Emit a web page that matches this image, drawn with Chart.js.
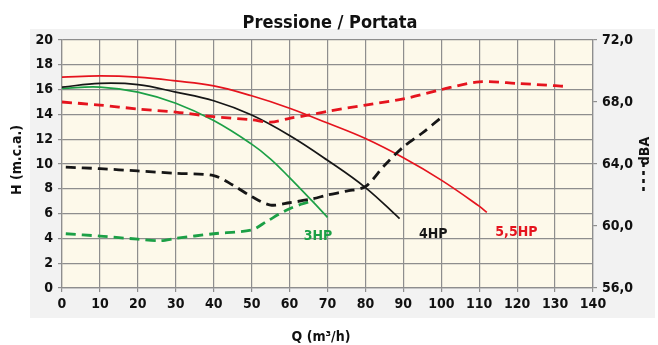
<!DOCTYPE html>
<html>
<head>
<meta charset="utf-8">
<script src="https://cdn.jsdelivr.net/npm/chart.js@4.4.1/dist/chart.umd.min.js"></script>
<style>
    html, body { margin: 0; padding: 0; background: #fff; }
    #wrap { width: 658px; height: 345px; position: relative; }
</style>
</head>
<body>
<div id="wrap"><canvas id="chart" width="658" height="345"></canvas></div>
<script>
// Curve data: Q in m3/h, H in m.c.a., noise in dBA
const q3 = [0, 10, 20, 30, 40, 50, 55, 60, 66, 70];
const h3 = [16.1, 16.2, 15.8, 14.9, 13.5, 11.6, 10.4, 8.9, 7.0, 5.7];

const q4 = [0, 10, 20, 30, 40, 50, 60, 70, 80, 89];
const h4 = [16.2, 16.5, 16.4, 15.8, 15.1, 13.95, 12.3, 10.3, 8.1, 5.6];

const q55 = [0, 10, 20, 30, 40, 50, 60, 70, 80, 90, 100, 110, 112];
const h55 = [17.0, 17.1, 17.0, 16.7, 16.3, 15.5, 14.5, 13.3, 12.05, 10.5, 8.7, 6.6, 6.1];

const qn3 = [1, 10, 20, 26, 30, 40, 50, 54, 59, 63, 66.5];
const db3 = [59.5, 59.35, 59.15, 59.05, 59.2, 59.5, 59.75, 60.3, 61.0, 61.4, 61.65];

const qn4 = [1, 10, 20, 30, 40, 45, 50, 55, 60, 66, 70, 75, 80, 85, 90, 95, 100];
const db4 = [63.8, 63.7, 63.55, 63.4, 63.25, 62.65, 61.9, 61.35, 61.5, 61.75, 62.0, 62.25, 62.55, 63.9, 65.1, 66.0, 67.0];

const qn55 = [0, 10, 20, 30, 40, 50, 55, 60, 65, 70, 80, 90, 100, 110, 120, 130, 133];
const db55 = [68.0, 67.8, 67.55, 67.35, 67.05, 66.85, 66.7, 66.95, 67.15, 67.4, 67.8, 68.2, 68.8, 69.3, 69.2, 69.05, 69.0];

// curve name labels, placed in data units (Q, H)
const labelText = ['3HP', '4HP', '5,5HP'];
const labelQ = [67.5, 97.9, 119.8];
const labelH = [4.2, 4.35, 4.5];

const RED = '#e5141e';
const BLACK = '#161616';
const GREEN = '#1ca046';
const labelColors = [GREEN, BLACK, RED];

const FONT = '"Liberation Sans Narrow", "DejaVu Sans Condensed", "Roboto Condensed", sans-serif';
Chart.defaults.font.family = FONT;
Chart.defaults.color = '#111';

const pts = (xs, ys) => xs.map((x, i) => ({ x: x, y: ys[i] }));

function solid(data, color) {
    return {
        data: data, borderColor: color, borderWidth: 1.7, pointRadius: 0,
        tension: 0.4, yAxisID: 'y', fill: false
    };
}
function dashed(data, color) {
    return {
        data: data, borderColor: color, borderWidth: 2.8, borderDash: [10, 6], pointRadius: 0,
        tension: 0.3, yAxisID: 'y1', fill: false
    };
}

const backdrop = {
    id: 'backdrop',
    beforeDraw(chart) {
        const { ctx, chartArea: a } = chart;
        ctx.save();
        ctx.fillStyle = '#f2f2f2';
        ctx.fillRect(30, 29, 625, 289);
        ctx.fillStyle = '#fdf9ea';
        ctx.fillRect(a.left, a.top, a.right - a.left, a.bottom - a.top);
        ctx.restore();
    },
    afterDraw(chart) {
        const { ctx, scales } = chart;
        ctx.save();
        // title
        ctx.fillStyle = '#111';
        ctx.font = 'bold 18px ' + FONT;
        ctx.textAlign = 'center';
        ctx.textBaseline = 'alphabetic';
        ctx.fillText('Pressione / Portata', 330, 28);
        // axis titles
        ctx.font = 'bold 14px ' + FONT;
        ctx.fillText('Q (m\u00b3/h)', 321, 341);
        ctx.save();
        ctx.translate(21, 160);
        ctx.rotate(-Math.PI / 2);
        ctx.fillText('H (m.c.a.)', 0, 0);
        ctx.restore();
        // right title with dashed key
        ctx.save();
        ctx.translate(649, 151);
        ctx.rotate(-Math.PI / 2);
        ctx.fillText('dBA', 0, 0);
        ctx.restore();
        ctx.strokeStyle = '#111';
        ctx.lineWidth = 2.5;
        ctx.setLineDash([4, 4]);
        ctx.beginPath();
        ctx.moveTo(643.5, 163);
        ctx.lineTo(643.5, 193);
        ctx.stroke();
        ctx.setLineDash([]);
        // curve labels
        ctx.font = 'bold 14px ' + FONT;
        ctx.textBaseline = 'middle';
        labelText.forEach((t, i) => {
            ctx.fillStyle = labelColors[i];
            ctx.fillText(t, scales.x.getPixelForValue(labelQ[i]), scales.y.getPixelForValue(labelH[i]));
        });
        ctx.restore();
    }
};

const tickFont = { size: 14, weight: 'bold' };

new Chart(document.getElementById('chart'), {
    type: 'line',
    data: {
        datasets: [
            dashed(pts(qn55, db55), RED),
            dashed(pts(qn4, db4), BLACK),
            dashed(pts(qn3, db3), GREEN),
            solid(pts(q55, h55), RED),
            solid(pts(q4, h4), BLACK),
            solid(pts(q3, h3), GREEN)
        ]
    },
    options: {
        responsive: false,
        animation: false,
        events: [],
        layout: { padding: { top: 40, left: 0, right: 0, bottom: 0 } },
        plugins: { legend: { display: false }, tooltip: { enabled: false }, title: { display: false } },
        scales: {
            x: {
                type: 'linear', min: 0, max: 140,
                ticks: { stepSize: 10, font: tickFont, padding: 4, color: '#111' },
                grid: { color: '#8e8e8e', lineWidth: 1.2, tickLength: 4 },
                border: { color: '#8e8e8e', width: 1.2 },
                afterFit(s) { s.height = 57; }
            },
            y: {
                position: 'left', min: 0, max: 20,
                ticks: { stepSize: 2, font: tickFont, padding: 5, color: '#111' },
                grid: { color: '#8e8e8e', lineWidth: 1.2, tickLength: 4 },
                border: { color: '#8e8e8e', width: 1.2 },
                afterFit(s) { s.width = 62; }
            },
            y1: {
                position: 'right', min: 56, max: 72,
                ticks: {
                    stepSize: 4, font: tickFont, padding: 5, color: '#111',
                    callback: v => v.toFixed(1).replace('.', ',')
                },
                grid: { drawOnChartArea: false, color: '#8e8e8e', lineWidth: 1.2, tickLength: 4 },
                border: { color: '#8e8e8e', width: 1.2 },
                afterFit(s) { s.width = 65; }
            }
        }
    },
    plugins: [backdrop]
});
</script>
</body>
</html>
